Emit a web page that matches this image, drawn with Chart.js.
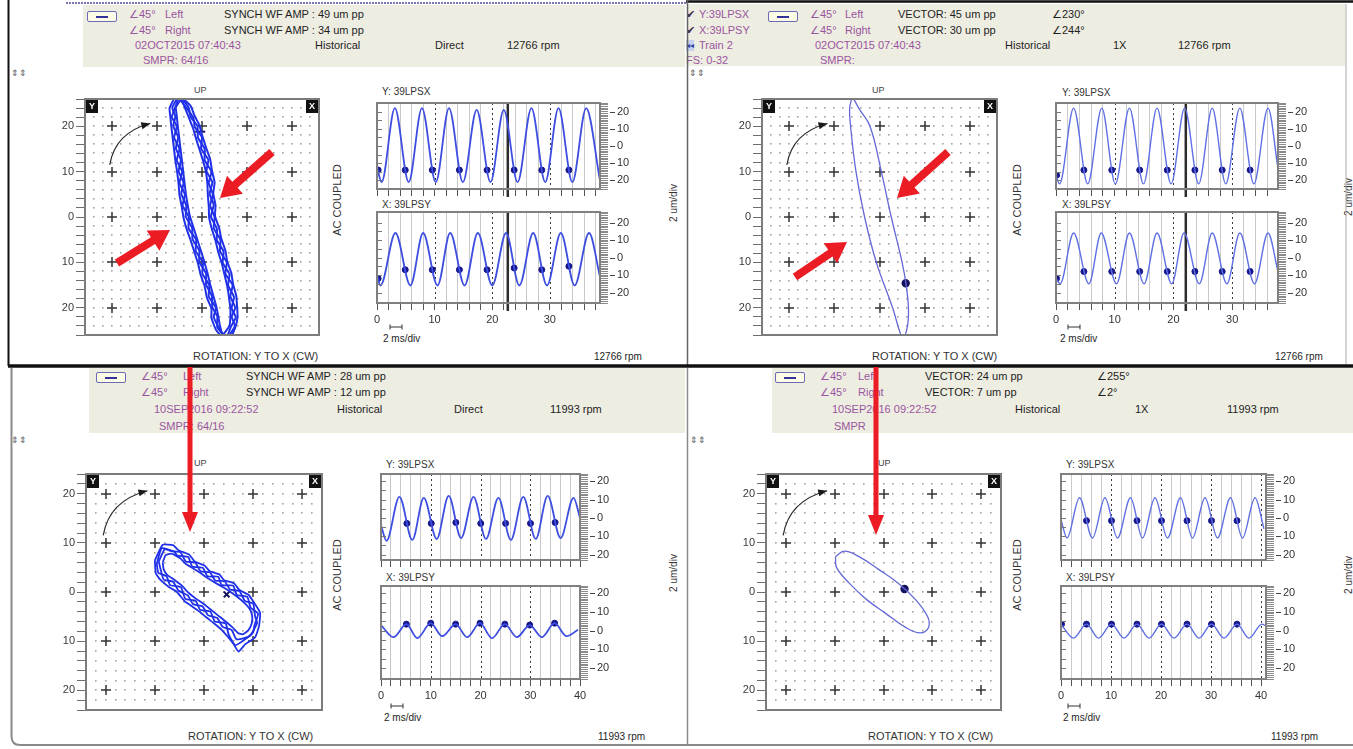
<!DOCTYPE html>
<html>
<head>
<meta charset="utf-8">
<title>Orbit / Timebase 39LPSX - 39LPSY</title>
<script src="https://cdn.jsdelivr.net/npm/chart.js@4.4.1/dist/chart.umd.min.js"></script>
<style>
  body { margin:0; width:1353px; height:749px; position:relative; overflow:hidden; background:#fff;
         font-family:"Liberation Sans", Arial, sans-serif; font-size:11px; color:#1e1e1e; }
  canvas { position:absolute; }
  .band { position:absolute; background:#eeede2; }
  .t { position:absolute; white-space:nowrap; line-height:11px; }
  .pu { color:#9a55a0; }
  .sm { font-size:9px; color:#444; }
  .ic { position:absolute; font-size:9px; color:#555; line-height:9px; }
  .vt { position:absolute; white-space:nowrap; line-height:12px; transform:translate(-50%,-50%) rotate(-90deg); color:#333; }
  .lg { position:absolute; width:28px; height:9px; border:1.5px solid #6a6ab8; border-radius:2px; background:#fbfbe6; }
  .lg::after { content:""; position:absolute; left:8px; right:8px; top:4px; height:1.5px; background:#333399; }
</style>
</head>
<body>

<!-- header bands -->
<div class="band" style="left:83px;top:5px;width:602px;height:62px"></div>
<div class="band" style="left:688px;top:4px;width:657px;height:62px"></div>
<div class="band" style="left:89px;top:368px;width:596px;height:65px"></div>
<div class="band" style="left:772px;top:368px;width:581px;height:65px"></div>

<!-- top left header -->
<div class="lg" style="left:87px;top:11px"></div>
<div class="t pu" style="left:129px;top:9px">∠45°</div>
<div class="t pu" style="left:165px;top:9px">Left</div>
<div class="t" style="left:224px;top:9px">SYNCH WF AMP : 49 um pp</div>
<div class="t pu" style="left:129px;top:25px">∠45°</div>
<div class="t pu" style="left:165px;top:25px">Right</div>
<div class="t" style="left:224px;top:25px">SYNCH WF AMP : 34 um pp</div>
<div class="t pu" style="left:135px;top:40px">02OCT2015 07:40:43</div>
<div class="t" style="left:315px;top:40px">Historical</div>
<div class="t" style="left:435px;top:40px">Direct</div>
<div class="t" style="left:507px;top:40px">12766 rpm</div>
<div class="t pu" style="left:143px;top:55px">SMPR: 64/16</div>
<div class="ic" style="left:11px;top:69px">⇕⇕</div>

<!-- top right header -->
<div class="t" style="left:686px;top:9px;color:#3a2a50">✔</div>
<div class="t pu" style="left:699px;top:9px">Y:39LPSX</div>
<div class="lg" style="left:768px;top:11px"></div>
<div class="t pu" style="left:810px;top:9px">∠45°</div>
<div class="t pu" style="left:845px;top:9px">Left</div>
<div class="t" style="left:898px;top:9px">VECTOR: 45 um pp</div>
<div class="t" style="left:1052px;top:9px">∠230°</div>
<div class="t" style="left:686px;top:25px;color:#3a2a50">✔</div>
<div class="t pu" style="left:699px;top:25px">X:39LPSY</div>
<div class="t pu" style="left:810px;top:25px">∠45°</div>
<div class="t pu" style="left:845px;top:25px">Right</div>
<div class="t" style="left:898px;top:25px">VECTOR: 30 um pp</div>
<div class="t" style="left:1052px;top:25px">∠244°</div>
<div class="t" style="left:686px;top:40px;font-size:8px;color:#3040a0;background:#c8d0f0">◂◂</div>
<div class="t pu" style="left:699px;top:40px">Train 2</div>
<div class="t pu" style="left:815px;top:40px">02OCT2015 07:40:43</div>
<div class="t" style="left:1005px;top:40px">Historical</div>
<div class="t" style="left:1113px;top:40px">1X</div>
<div class="t" style="left:1178px;top:40px">12766 rpm</div>
<div class="t pu" style="left:686px;top:55px">FS: 0-32</div>
<div class="t pu" style="left:820px;top:55px">SMPR:</div>
<div class="ic" style="left:689px;top:69px">⇕⇕</div>

<!-- bottom left header -->
<div class="lg" style="left:96px;top:372px"></div>
<div class="t pu" style="left:141px;top:371px">∠45°</div>
<div class="t pu" style="left:183px;top:371px">Left</div>
<div class="t" style="left:246px;top:371px">SYNCH WF AMP : 28 um pp</div>
<div class="t pu" style="left:141px;top:387px">∠45°</div>
<div class="t pu" style="left:183px;top:387px">Right</div>
<div class="t" style="left:246px;top:387px">SYNCH WF AMP : 12 um pp</div>
<div class="t pu" style="left:154px;top:404px">10SEP2016 09:22:52</div>
<div class="t" style="left:337px;top:404px">Historical</div>
<div class="t" style="left:454px;top:404px">Direct</div>
<div class="t" style="left:550px;top:404px">11993 rpm</div>
<div class="t pu" style="left:159px;top:421px">SMPR: 64/16</div>
<div class="ic" style="left:11px;top:436px">⇕⇕</div>

<!-- bottom right header -->
<div class="lg" style="left:775px;top:372px"></div>
<div class="t pu" style="left:820px;top:371px">∠45°</div>
<div class="t pu" style="left:858px;top:371px">Left</div>
<div class="t" style="left:925px;top:371px">VECTOR: 24 um pp</div>
<div class="t" style="left:1097px;top:371px">∠255°</div>
<div class="t pu" style="left:820px;top:387px">∠45°</div>
<div class="t pu" style="left:858px;top:387px">Right</div>
<div class="t" style="left:925px;top:387px">VECTOR: 7 um pp</div>
<div class="t" style="left:1097px;top:387px">∠2°</div>
<div class="t pu" style="left:832px;top:404px">10SEP2016 09:22:52</div>
<div class="t" style="left:1015px;top:404px">Historical</div>
<div class="t" style="left:1135px;top:404px">1X</div>
<div class="t" style="left:1227px;top:404px">11993 rpm</div>
<div class="t pu" style="left:834px;top:421px">SMPR</div>
<div class="ic" style="left:690px;top:436px">⇕⇕</div>

<!-- plot captions -->
<div class="t sm" style="left:194px;top:85px">UP</div>
<div class="t sm" style="left:872px;top:85px">UP</div>
<div class="t sm" style="left:194px;top:458px">UP</div>
<div class="t sm" style="left:878px;top:458px">UP</div>

<div class="vt" style="left:337px;top:200px">AC COUPLED</div>
<div class="vt" style="left:1017px;top:200px">AC COUPLED</div>
<div class="vt" style="left:337px;top:575px">AC COUPLED</div>
<div class="vt" style="left:1017px;top:575px">AC COUPLED</div>

<div class="vt" style="left:674px;top:203px;font-size:10px">2 um/div</div>
<div class="vt" style="left:1349px;top:197px;font-size:10px">2 um/div</div>
<div class="vt" style="left:674px;top:573px;font-size:10px">2 um/div</div>
<div class="vt" style="left:1349px;top:575px;font-size:10px">2 um/div</div>

<div class="t" style="left:193px;top:351px;color:#333">ROTATION: Y TO X (CW)</div>
<div class="t" style="left:872px;top:351px;color:#333">ROTATION: Y TO X (CW)</div>
<div class="t" style="left:188px;top:731px;color:#333">ROTATION: Y TO X (CW)</div>
<div class="t" style="left:868px;top:731px;color:#333">ROTATION: Y TO X (CW)</div>

<div class="t" style="left:594px;top:351px;font-size:10px">12766 rpm</div>
<div class="t" style="left:1275px;top:351px;font-size:10px">12766 rpm</div>
<div class="t" style="left:598px;top:731px;font-size:10px">11993 rpm</div>
<div class="t" style="left:1271px;top:731px;font-size:10px">11993 rpm</div>

<div class="t" style="left:382px;top:86px;font-size:10px;color:#333">Y: 39LPSX</div>
<div class="t" style="left:382px;top:199px;font-size:10px;color:#333">X: 39LPSY</div>
<div class="t" style="left:1062px;top:87px;font-size:10px;color:#333">Y: 39LPSX</div>
<div class="t" style="left:1062px;top:199px;font-size:10px;color:#333">X: 39LPSY</div>
<div class="t" style="left:386px;top:459px;font-size:10px;color:#333">Y: 39LPSX</div>
<div class="t" style="left:386px;top:572px;font-size:10px;color:#333">X: 39LPSY</div>
<div class="t" style="left:1066px;top:459px;font-size:10px;color:#333">Y: 39LPSX</div>
<div class="t" style="left:1066px;top:572px;font-size:10px;color:#333">X: 39LPSY</div>

<div class="t" style="left:383px;top:333px;font-size:10px">2 ms/div</div>
<div class="t" style="left:1060px;top:333px;font-size:10px">2 ms/div</div>
<div class="t" style="left:384px;top:712px;font-size:10px">2 ms/div</div>
<div class="t" style="left:1063px;top:712px;font-size:10px">2 ms/div</div>

<svg id="overlay" width="1353" height="749" style="position:absolute;left:0;top:0;z-index:10">
  <!-- panel frames -->
  <line x1="8.5" y1="0" x2="8.5" y2="366" stroke="#111" stroke-width="2"/>
  <line x1="66" y1="3" x2="686" y2="3" stroke="#7777b8" stroke-width="2" stroke-dasharray="2 1"/>
  <line x1="686" y1="1.5" x2="1353" y2="1.5" stroke="#111" stroke-width="2.5"/>
  <line x1="687.5" y1="0" x2="687.5" y2="366" stroke="#666" stroke-width="1.5"/>
  <line x1="1346" y1="4" x2="1346" y2="364" stroke="#aaa" stroke-width="1"/>
  <line x1="8" y1="366" x2="1353" y2="366" stroke="#111" stroke-width="3.5"/>
  <path d="M11.5 368 L11.5 736 Q11.5 745 20 745 L1353 745" fill="none" stroke="#8a8a8a" stroke-width="2"/>
  <line x1="687.5" y1="368" x2="687.5" y2="745" stroke="#8a8a8a" stroke-width="1.5"/>
  <!-- 2 ms scale bars -->
  <g stroke="#333" stroke-width="1">
    <path d="M390 327 H402 M390 324.5 V329.5 M402 324.5 V329.5"/>
    <path d="M1068 327 H1080 M1068 324.5 V329.5 M1080 324.5 V329.5"/>
    <path d="M391 706 H403 M391 703.5 V708.5 M403 703.5 V708.5"/>
    <path d="M1068 706 H1080 M1068 703.5 V708.5 M1080 703.5 V708.5"/>
  </g>
</svg>

<script>
// ---- orbit traces (x, y in um) ----
// 02OCT2015 direct orbit, four revolutions
const orbit2015DirectA = [[-5.0,26.8],[-3.0,24.2],[-2.5,22],[-1.0,20],[-0.9,17.5],[0.6,15],[0.6,12.5],[2.1,10],[1.5,7.5],[2.4,5],[1.8,2.5],[2.8,0],[2.6,-2.5],[4.1,-5],[4.0,-7.5],[5.5,-10],[5.2,-12.5],[6.8,-15],[6.3,-17.5],[7.4,-20],[6.6,-22],[7.3,-24],[5.3,-26.9],[3.8,-24.5],[2.6,-22],[3.1,-20],[1.5,-17.5],[1.6,-15],[0.1,-12.5],[0.2,-10],[-1.4,-7.5],[-1.3,-5],[-3.0,-2.5],[-2.9,0],[-4.3,2.5],[-3.8,5],[-5.0,7.5],[-4.4,10],[-5.6,12.5],[-5.0,15],[-6.2,17.5],[-5.6,20],[-6.7,22],[-6.0,24],[-5.0,26.8]];
const orbit2015DirectB = [[-5.6,27.2],[-2.6,24.6],[-1.6,22.2],[-0.6,20.3],[0.1,17.8],[0.9,15.3],[1.8,12.8],[2.2,10.3],[2.8,7.6],[2.5,5.2],[3.0,2.6],[2.9,0.2],[3.8,-2.4],[4.3,-4.8],[5.2,-7.4],[5.6,-9.8],[6.5,-12.3],[6.9,-14.8],[7.6,-17.3],[7.8,-19.8],[7.9,-22],[7.4,-24.3],[5.8,-27.4],[3.2,-25],[2.1,-22.2],[2.1,-20.2],[1.1,-17.8],[0.6,-15.3],[-0.3,-12.7],[-0.9,-10.2],[-1.7,-7.7],[-2.5,-5.2],[-3.4,-2.7],[-4.1,-0.2],[-4.5,2.3],[-5.0,4.8],[-5.2,7.3],[-5.5,9.8],[-5.9,12.3],[-6.2,14.8],[-6.5,17.3],[-6.8,19.8],[-7.0,21.8],[-7.2,24],[-5.6,27.2]];
const orbit2015DirectC = [[-4.6,26],[-3.6,23.6],[-2.8,21.6],[-2.0,19.6],[-1.3,17.2],[-0.5,14.7],[0.3,12.2],[0.9,9.8],[1.2,7.3],[1.3,4.8],[1.5,2.4],[1.6,-0.2],[2.2,-2.7],[3.0,-5.2],[3.6,-7.7],[4.4,-10.2],[5.0,-12.7],[5.6,-15.2],[6.0,-17.7],[6.3,-20.2],[6.3,-22.2],[6.1,-24],[4.6,-25.9],[4.0,-24],[3.6,-21.8],[3.2,-19.8],[2.5,-17.3],[1.8,-14.8],[1.2,-12.3],[0.5,-9.8],[-0.3,-7.3],[-1.1,-4.8],[-1.9,-2.3],[-2.7,0.2],[-3.2,2.7],[-3.6,5.2],[-3.9,7.7],[-4.2,10.2],[-4.5,12.7],[-4.8,15.2],[-5.1,17.7],[-5.4,20.2],[-5.6,22.2],[-5.8,24.2],[-4.6,26]];
const orbit2015DirectD = [[-5.3,26.4],[-3.4,24],[-1.9,21.8],[-1.6,19.8],[0.0,17.6],[-0.2,15.1],[1.4,12.6],[1.0,10.1],[2.3,7.7],[1.7,5.1],[2.6,2.7],[2.0,0.1],[3.3,-2.6],[3.3,-5.1],[4.8,-7.6],[4.6,-10.1],[6.1,-12.6],[5.8,-15.1],[7.1,-17.6],[6.6,-20.1],[7.5,-22.1],[6.4,-24.2],[5.5,-26.4],[3.4,-24.3],[3.4,-21.9],[2.3,-19.9],[2.2,-17.4],[0.9,-14.9],[0.9,-12.4],[-0.6,-9.9],[-0.6,-7.4],[-2.1,-4.9],[-2.2,-2.4],[-3.6,0.1],[-3.5,2.6],[-4.6,5.1],[-4.1,7.6],[-5.2,10.1],[-4.7,12.6],[-5.8,15.1],[-5.3,17.6],[-6.4,20.1],[-5.9,22.1],[-6.6,24.1],[-5.3,26.4]];
// 02OCT2015 1X filtered orbit
const orbit2015Filtered = [[-6.0,26.6],[-4.6,24],[-2.1,20],[0.4,10],[2.6,0],[5.0,-10],[5.9,-15],[6.4,-20],[6.2,-24],[5.2,-26.7],[4.4,-25],[2.9,-20],[-0.7,-10],[-3.3,0],[-5.2,10],[-6.4,20],[-6.6,24],[-6.0,26.6]];
// 10SEP2016 direct orbit, four revolutions
const orbit2016DirectA = [[-9.2,6.2],[-8.0,8.7],[-6.7,8.3],[-4.8,8.1],[-3.7,6.2],[-1.8,6.0],[-0.7,4.2],[1.2,4.0],[2.3,2.3],[4.2,2.2],[5.3,0.5],[7.2,0.2],[8.3,-1.8],[10.0,-2.4],[10.4,-5.0],[10.8,-6.3],[9.4,-8.9],[8.4,-9.3],[6.6,-9.6],[5.6,-7.7],[3.8,-7.1],[2.7,-5.3],[0.8,-4.7],[-0.3,-2.9],[-2.2,-2.5],[-3.3,-0.7],[-5.2,0.3],[-6.3,2.1],[-8.2,2.5],[-8.8,4.5],[-9.2,6.2]];
const orbit2016DirectB = [[-10.0,6.4],[-8.4,9.6],[-6.2,9.5],[-5.2,8.5],[-3.0,7.6],[-1.9,6.2],[0.1,5.4],[1.2,4.2],[3.1,3.6],[4.1,2.4],[6.1,1.8],[7.2,0.4],[9.1,-0.6],[10.2,-2.2],[11.4,-4.2],[11.2,-6.9],[10.4,-9.2],[8.4,-10.6],[7.0,-12.1],[5.9,-10.4],[3.6,-7.7],[2.2,-6.5],[0.4,-5.1],[-0.9,-4.0],[-2.6,-2.8],[-3.9,-1.9],[-5.6,0.1],[-7.0,0.9],[-8.8,2.4],[-9.8,3.8],[-10.0,6.4]];
const orbit2016DirectC = [[-8.4,6.0],[-7.8,7.5],[-6.6,7.8],[-4.9,6.9],[-3.8,5.8],[-2.2,4.8],[-0.8,3.9],[0.8,2.8],[2.1,2.0],[3.8,1.0],[5.1,0.2],[6.8,-1.0],[8.0,-2.0],[9.2,-3.3],[9.8,-4.8],[9.7,-6.4],[9.0,-7.8],[7.9,-8.6],[7.0,-8.4],[5.8,-7.2],[4.4,-6.0],[2.9,-4.8],[1.4,-3.6],[-0.1,-2.4],[-1.6,-1.4],[-3.1,-0.2],[-4.6,1.4],[-6.2,2.6],[-7.5,3.5],[-8.2,4.6],[-8.4,6.0]];
const orbit2016DirectD = [[-9.6,5.8],[-8.6,8.9],[-6.1,8.2],[-5.4,7.4],[-3.2,7.1],[-2.4,5.2],[-0.2,4.9],[0.7,3.2],[2.9,3.1],[3.6,1.4],[5.9,1.3],[6.7,-0.6],[8.8,-1.0],[9.5,-3.2],[11.0,-4.4],[10.2,-7.0],[10.0,-8.2],[7.8,-10.0],[6.3,-10.8],[5.0,-8.6],[4.4,-6.4],[2.2,-6.0],[1.3,-4.0],[-0.8,-3.6],[-1.7,-1.8],[-3.8,-1.4],[-4.7,1.0],[-6.9,1.4],[-7.6,3.2],[-9.3,3.9],[-9.6,5.8]];
// 10SEP2016 1X filtered orbit
const orbit2016Filtered = [[-9.8,7.2],[-8,8.3],[-5,7.2],[-1,4.6],[3,1.8],[6.5,-1.5],[9,-5],[9.2,-7.2],[7.5,-8.3],[4.5,-7.2],[0.5,-4.4],[-3.5,-1.5],[-7,1.8],[-9.6,5],[-9.8,7.2]];

// keyphasor marks on the orbits
const kpOrbit2015Direct = [[-0.4,18.8]];
const kpOrbit2015Filtered = [[5.8,-14.6]];
const kpOrbit2016Direct = [[4.6,-0.5]];
const kpOrbit2016Filtered = [[4.3,0.6]];

// ---- timebase waveforms: [time ms, amplitude um] at peaks and troughs ----
const wf2015DirectY = [[0,-12],[0.8,-21],[3.1,22],[5.5,-21],[7.8,22],[10.2,-21],[12.5,22],[14.9,-21],[17.3,21],[19.7,-21],[22.0,21],[24.4,-21],[26.8,22],[29.2,-21],[31.5,22],[33.9,-21],[36.3,22],[38.7,-20]];
const wf2015DirectX = [[0,-10],[0.6,-16],[3.2,14],[5.8,-16],[8.0,14],[10.5,-16],[12.7,14],[15.2,-16],[17.5,14],[20.0,-16],[22.4,14],[24.7,-16],[27.1,14],[29.5,-16],[31.9,14],[34.3,-16],[36.8,14],[38.7,-11]];
const wf2015FilteredY = [[0,-17],[0.6,-22],[3.0,22],[5.4,-22],[7.8,22],[10.1,-22],[12.5,22],[14.9,-22],[17.2,22],[19.6,-22],[21.9,22],[24.3,-22],[26.6,22],[28.9,-22],[31.3,22],[33.7,-22],[36.1,22],[37.8,-13]];
const wf2015FilteredX = [[0,-12],[0.7,-15],[3.0,14],[5.6,-15],[7.7,14],[10.3,-15],[12.5,14],[15.0,-15],[17.2,14],[19.7,-15],[21.8,14],[24.4,-15],[26.6,14],[29.1,-15],[31.3,14],[33.8,-15],[36.1,14],[37.8,-8]];
const wf2016DirectY = [[0,-4],[1.1,-12.5],[3.7,11.5],[6.3,-12],[8.6,11],[11.2,-11.5],[13.6,12],[16.1,-11],[18.6,11.5],[21.1,-11.5],[23.6,11],[26.1,-12],[28.6,11.5],[31.1,-11.5],[33.5,12],[36.1,-11],[38.7,11],[40,0]];
const wf2016DirectX = [[0,3],[2.5,-3.5],[5.1,3.5],[7.3,-4],[10.0,4],[12.3,-3],[15.0,3.5],[17.3,-3.5],[19.9,4],[22.3,-4],[24.9,3.5],[27.3,-3.5],[29.9,3],[32.3,-3.5],[34.9,4],[37.3,-3],[39.6,0.5]];
const wf2016FilteredY = [[0,-1],[1.2,-11],[3.7,11],[6.3,-11],[8.8,11],[11.3,-11],[13.9,11],[16.3,-11],[18.8,11],[21.3,-11],[23.9,11],[26.3,-11],[28.8,11],[31.3,-11],[33.9,11],[36.3,-11],[38.8,11],[40.6,-6]];
const wf2016FilteredX = [[0,3.5],[2.5,-4],[5.1,3.5],[7.5,-4],[10.1,3.5],[12.6,-4],[15.2,3.5],[17.6,-4],[20.1,3.5],[22.6,-4],[25.2,3.5],[27.6,-4],[30.1,3.5],[32.6,-4],[35.2,3.5],[37.6,-4],[40.2,3.5],[41,2.5]];

// keyphasor dots on the waveforms
const kpWf2015DirectY = [[0.2,-14],[4.9,-14],[9.6,-14],[14.3,-14],[19.1,-14],[23.8,-14],[28.6,-14],[33.3,-14]];
const kpWf2015DirectX = [[0.2,-12],[4.9,-7],[9.6,-7],[14.3,-7],[19.1,-7],[23.8,-6],[28.6,-7],[33.3,-5]];
const kpWf2015FilteredY = [[0.1,-17],[4.75,-14],[9.5,-14],[14.25,-14],[18.95,-14],[23.65,-14],[28.3,-14],[33.05,-14]];
const kpWf2015FilteredX = [[0.1,-12],[4.75,-8],[9.5,-8],[14.25,-8],[18.95,-8],[23.65,-8],[28.3,-8],[33.05,-8]];
const kpWf2016DirectY = [[5.2,-3],[10.1,-3],[15.05,-2.5],[20.05,-3],[25.05,-3],[30.05,-3],[35.0,-2.5]];
const kpWf2016DirectX = [[5.1,3.5],[10.0,4],[15.0,3.5],[19.9,4],[24.9,3.5],[29.9,3],[34.9,4]];
const kpWf2016FilteredY = [[5.1,-1.5],[10.1,-1.5],[15.2,-1.5],[20.1,-1.5],[25.2,-1.5],[30.1,-1.5],[35.2,-1.5]];
const kpWf2016FilteredX = [[0.1,3.5],[5.1,3.5],[10.1,3.5],[15.2,3.5],[20.1,3.5],[25.2,3.5],[30.1,3.5],[35.2,3.5]];

// tick labels
const orbitTickLabels = [-20, -10, 0, 10, 20];
const ampTickLabels = [-20, -10, 0, 10, 20];
const timeTickLabels = [0, 10, 20, 30, 40];

Chart.defaults.font.family = '"Liberation Sans", Arial, sans-serif';

const toXY = pts => pts.map(([x, y]) => ({ x, y }));

function placeCanvas(left, top, w, h) {
    const c = document.createElement('canvas');
    c.width = w;
    c.height = h;
    c.style.left = left + 'px';
    c.style.top = top + 'px';
    document.body.appendChild(c);
    return c;
}

function evenTicks(from, to, step) {
    const out = [];
    for (let v = Math.ceil(from / step) * step; v <= to + 1e-9; v += step) out.push({ value: v });
    return out;
}

// dot grid, crosses, rotation arrow, frame and the Y / X probe badges
const orbitDecor = {
    id: 'orbitDecor',
    beforeDatasetsDraw(chart) {
        const { ctx, scales: { x, y } } = chart;
        const lim = x.max;
        ctx.save();
        ctx.fillStyle = '#a2a2a2';
        for (let gx = 2 - lim; gx < lim; gx += 2) {
            for (let gy = 2 - lim; gy < lim; gy += 2) {
                if (gx % 10 === 0 && gy % 10 === 0) continue;
                ctx.fillRect(Math.round(x.getPixelForValue(gx)) - 1, Math.round(y.getPixelForValue(gy)) - 1, 1.6, 1.6);
            }
        }
        ctx.strokeStyle = '#333';
        ctx.lineWidth = 1.5;
        for (let gx = -20; gx <= 20; gx += 10) {
            for (let gy = -20; gy <= 20; gy += 10) {
                const px = Math.round(x.getPixelForValue(gx)), py = Math.round(y.getPixelForValue(gy));
                ctx.beginPath();
                ctx.moveTo(px - 5, py); ctx.lineTo(px + 5, py);
                ctx.moveTo(px, py - 5); ctx.lineTo(px, py + 5);
                ctx.stroke();
            }
        }
        // rotation direction
        const p0 = [x.getPixelForValue(-20.5), y.getPixelForValue(11.5)];
        const cp = [x.getPixelForValue(-19.3), y.getPixelForValue(18.6)];
        const p1 = [x.getPixelForValue(-11.5), y.getPixelForValue(20.6)];
        ctx.strokeStyle = '#2a2a2a';
        ctx.lineWidth = 1.2;
        ctx.beginPath();
        ctx.moveTo(p0[0], p0[1]);
        ctx.quadraticCurveTo(cp[0], cp[1], p1[0], p1[1]);
        ctx.stroke();
        const ang = Math.atan2(p1[1] - cp[1], p1[0] - cp[0]);
        ctx.fillStyle = '#1a1a1a';
        ctx.beginPath();
        ctx.moveTo(p1[0], p1[1]);
        ctx.lineTo(p1[0] - 9 * Math.cos(ang) + 3.5 * Math.sin(ang), p1[1] - 9 * Math.sin(ang) - 3.5 * Math.cos(ang));
        ctx.lineTo(p1[0] - 9 * Math.cos(ang) - 3.5 * Math.sin(ang), p1[1] - 9 * Math.sin(ang) + 3.5 * Math.cos(ang));
        ctx.closePath();
        ctx.fill();
        ctx.restore();
    },
    afterDraw(chart) {
        const { ctx, chartArea: a } = chart;
        ctx.save();
        ctx.strokeStyle = '#7c7c7c';
        ctx.lineWidth = 2;
        ctx.strokeRect(a.left, a.top, a.right - a.left, a.bottom - a.top);
        ctx.fillStyle = '#111';
        ctx.fillRect(a.left + 1, a.top + 1, 12, 13);
        ctx.fillRect(a.right - 13, a.top + 1, 12, 13);
        ctx.fillStyle = '#fff';
        ctx.font = 'bold 9px "Liberation Sans", Arial, sans-serif';
        ctx.textAlign = 'center';
        ctx.textBaseline = 'middle';
        ctx.fillText('Y', a.left + 7, a.top + 8);
        ctx.fillText('X', a.right - 7, a.top + 8);
        ctx.restore();
    }
};

// dotted 10 ms lines, capture split line, frame and axis dashes
const waveDecor = {
    id: 'waveDecor',
    beforeDatasetsDraw(chart, args, opts) {
        const { ctx, chartArea: a, scales: { x } } = chart;
        ctx.save();
        ctx.strokeStyle = '#3c3c3c';
        ctx.lineWidth = 1;
        ctx.setLineDash([2, 3]);
        for (let t = 10; t < x.max; t += 10) {
            const px = Math.round(x.getPixelForValue(t)) + 0.5;
            ctx.beginPath();
            ctx.moveTo(px, a.top);
            ctx.lineTo(px, a.bottom);
            ctx.stroke();
        }
        ctx.setLineDash([]);
        if (opts.split) {
            const px = x.getPixelForValue(opts.split);
            ctx.strokeStyle = '#2c2c2c';
            ctx.lineWidth = 2.5;
            ctx.beginPath();
            ctx.moveTo(px, a.top);
            ctx.lineTo(px, a.bottom + 8);
            ctx.stroke();
        }
        ctx.restore();
    },
    afterDraw(chart) {
        const { ctx, chartArea: a, scales: { y } } = chart;
        ctx.save();
        ctx.strokeStyle = '#808080';
        ctx.lineWidth = 2;
        ctx.strokeRect(a.left, a.top, a.right - a.left, a.bottom - a.top);
        ctx.lineWidth = 1;
        ctx.strokeStyle = '#777';
        for (let v = -20; v <= 20; v += 5) {
            const py = Math.round(y.getPixelForValue(v)) + 0.5;
            ctx.beginPath();
            ctx.moveTo(a.left, py);
            ctx.lineTo(a.left + 5, py);
            ctx.stroke();
        }
        ctx.strokeStyle = '#444';
        ampTickLabels.forEach(v => {
            const py = Math.round(y.getPixelForValue(v)) + 0.5;
            ctx.beginPath();
            ctx.moveTo(a.right + 10, py);
            ctx.lineTo(a.right + 15, py);
            ctx.stroke();
        });
        ctx.restore();
    }
};

function orbitChart(box, lim, traces, keyphasor, look) {
    const [l, t, r, b] = box;
    const axisW = 44;
    const canvas = placeCanvas(l - axisW, t - 6, r - l + axisW + 6, b - t + 12);
    const datasets = traces.map(tr => ({
        data: toXY(tr), showLine: true, tension: look.tension,
        borderColor: look.color, borderWidth: look.width, pointRadius: 0
    }));
    datasets.push({
        data: toXY(keyphasor), pointStyle: look.kpStyle, pointRadius: look.kpRadius, borderWidth: 2,
        backgroundColor: '#14145e', borderColor: '#14145e'
    });
    return new Chart(canvas, {
        type: 'scatter',
        data: { datasets },
        options: {
            responsive: false, animation: false, events: [],
            layout: { padding: { left: 0, top: 6, right: 6, bottom: 6 }, autoPadding: false },
            plugins: { legend: { display: false }, tooltip: { enabled: false } },
            scales: {
                x: { min: -lim, max: lim, display: false },
                y: {
                    min: -lim, max: lim,
                    afterBuildTicks: s => { s.ticks = evenTicks(-lim, lim, 2); },
                    afterFit: s => { s.width = axisW; s.paddingTop = 0; s.paddingBottom = 0; },
                    border: { display: false },
                    grid: { drawOnChartArea: false, tickLength: 9, tickColor: '#6e6e6e' },
                    ticks: {
                        autoSkip: false, padding: 2, color: '#3a3a3a', font: { size: 11 },
                        callback: v => orbitTickLabels.includes(v) ? String(Math.abs(v)) : ''
                    }
                }
            }
        },
        plugins: [orbitDecor]
    });
}

function waveChart(box, tMax, yMin, yMax, line, dots, opts) {
    const [l, t, r, b] = box;
    const axisH = opts.labels ? 24 : 10;
    const canvas = placeCanvas(l - 8, t - 5, r - l + 48, b - t + 5 + axisH);
    return new Chart(canvas, {
        type: 'scatter',
        data: {
            datasets: [
                { data: toXY(line), showLine: true, cubicInterpolationMode: 'monotone',
                  borderColor: opts.color, borderWidth: opts.width, pointRadius: 0 },
                { data: toXY(dots), pointRadius: 3, backgroundColor: '#16168a', borderColor: '#16168a' }
            ]
        },
        options: {
            responsive: false, animation: false, events: [],
            layout: { padding: { left: 8, top: 5, right: 0, bottom: 0 }, autoPadding: false },
            plugins: { legend: { display: false }, tooltip: { enabled: false }, waveDecor: { split: opts.split } },
            scales: {
                x: {
                    min: 0, max: tMax,
                    afterBuildTicks: s => { s.ticks = evenTicks(0, tMax, 2); },
                    afterFit: s => { s.height = axisH; s.paddingLeft = 0; s.paddingRight = 0; },
                    border: { display: false },
                    grid: {
                        color: c => (c.tick && c.tick.value % 10 === 0) ? 'rgba(0,0,0,0)' : '#c9c9d0',
                        tickColor: '#555', tickLength: 7
                    },
                    ticks: {
                        display: opts.labels, autoSkip: false, maxRotation: 0, padding: 3, color: '#333', font: { size: 11 },
                        callback: v => timeTickLabels.includes(v) ? String(v) : ''
                    }
                },
                y: {
                    position: 'right', min: yMin, max: yMax,
                    afterBuildTicks: s => { s.ticks = evenTicks(yMin, yMax, 1); },
                    afterFit: s => { s.width = 40; s.paddingTop = 0; s.paddingBottom = 0; },
                    border: { display: false },
                    grid: { drawOnChartArea: false, tickColor: '#8a8a8a', tickLength: 8 },
                    ticks: {
                        autoSkip: false, padding: 9, color: '#333', font: { size: 11 },
                        callback: v => ampTickLabels.includes(v) ? String(Math.abs(v)) : ''
                    }
                }
            }
        },
        plugins: [waveDecor]
    });
}

const directLook = { color: '#1f30e8', width: 2, tension: 0.15, kpStyle: 'line', kpRadius: 5 };
const filteredLook = { color: '#6468d8', width: 1.3, tension: 0.4, kpStyle: 'circle', kpRadius: 3.2 };
const waveDirect = { color: '#3d4ee0', width: 1.8 };
const waveFiltered = { color: '#5f70e4', width: 1.4 };

// 02OCT2015 direct
orbitChart([85, 99, 319, 335], 26, [orbit2015DirectA, orbit2015DirectB, orbit2015DirectC, orbit2015DirectD], kpOrbit2015Direct, directLook);
waveChart([377, 103, 600, 189], 38.7, -25, 25, wf2015DirectY, kpWf2015DirectY, { ...waveDirect, labels: false, split: 22.7 });
waveChart([377, 212, 600, 303], 38.7, -26, 26, wf2015DirectX, kpWf2015DirectX, { ...waveDirect, labels: true, split: 22.7 });

// 02OCT2015 1X
orbitChart([762, 99, 997, 335], 26, [orbit2015Filtered], kpOrbit2015Filtered, filteredLook);
waveChart([1056, 103, 1278, 189], 37.8, -25, 25, wf2015FilteredY, kpWf2015FilteredY, { ...waveFiltered, labels: false, split: 22.1 });
waveChart([1056, 212, 1278, 303], 37.8, -26, 26, wf2015FilteredX, kpWf2015FilteredX, { ...waveFiltered, labels: true, split: 22.1 });

// 10SEP2016 direct
orbitChart([86, 474, 322, 710], 24, [orbit2016DirectA, orbit2016DirectB, orbit2016DirectC, orbit2016DirectD], kpOrbit2016Direct, { ...directLook, width: 1.8, kpStyle: 'crossRot', kpRadius: 4 });
waveChart([381, 474, 580, 560], 40, -23, 24, wf2016DirectY, kpWf2016DirectY, { ...waveDirect, labels: false });
waveChart([381, 586, 580, 679], 40, -26, 24, wf2016DirectX, kpWf2016DirectX, { ...waveDirect, labels: true });

// 10SEP2016 1X
orbitChart([766, 474, 1001, 710], 24, [orbit2016Filtered], kpOrbit2016Filtered, filteredLook);
waveChart([1061, 474, 1266, 560], 41, -23, 24, wf2016FilteredY, kpWf2016FilteredY, { ...waveFiltered, labels: false });
waveChart([1061, 586, 1266, 679], 41, -26, 24, wf2016FilteredX, kpWf2016FilteredX, { ...waveFiltered, labels: true });

// red call-out arrows
function redArrow(x1, y1, x2, y2, shaft, headW, headL) {
    const svg = document.getElementById('overlay');
    const len = Math.hypot(x2 - x1, y2 - y1);
    const ux = (x2 - x1) / len, uy = (y2 - y1) / len;
    const nx = -uy, ny = ux;
    const bx = x2 - ux * headL, by = y2 - uy * headL;
    const pts = [
        [x1 + nx * shaft / 2, y1 + ny * shaft / 2],
        [bx + nx * shaft / 2, by + ny * shaft / 2],
        [bx + nx * headW / 2, by + ny * headW / 2],
        [x2, y2],
        [bx - nx * headW / 2, by - ny * headW / 2],
        [bx - nx * shaft / 2, by - ny * shaft / 2],
        [x1 - nx * shaft / 2, y1 - ny * shaft / 2]
    ];
    const p = document.createElementNS('http://www.w3.org/2000/svg', 'polygon');
    p.setAttribute('points', pts.map(q => q[0].toFixed(1) + ',' + q[1].toFixed(1)).join(' '));
    p.setAttribute('fill', '#ec1c24');
    svg.appendChild(p);
}

redArrow(272, 152, 220, 198, 8, 24, 20);
redArrow(117, 263, 170, 230, 8, 24, 20);
redArrow(948, 152, 897, 198, 8, 24, 20);
redArrow(795, 277, 847, 242, 8, 24, 20);
redArrow(190, 367, 190, 532, 5, 16, 20);
redArrow(876, 367, 876, 535, 5, 16, 20);
</script>
</body>
</html>
